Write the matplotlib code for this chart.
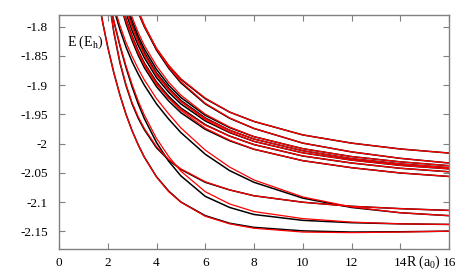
import matplotlib
matplotlib.use("Agg")
import matplotlib.pyplot as plt

plt.rcParams['font.family'] = ['Liberation Serif', 'DejaVu Serif']
plt.rcParams['mathtext.fontset'] = 'custom'
plt.rcParams['mathtext.rm'] = 'Liberation Serif'
plt.rcParams['mathtext.it'] = 'Liberation Serif:italic'

# bond length grid (a0) shared by all curves
R = [1.6, 1.8, 2.0, 2.25, 2.5, 2.75, 3.0, 3.25, 3.5, 4.0, 4.5, 5.0, 6.0, 7.0, 8.0, 10.0, 12.0, 14.0, 16.0]

# energies (Eh): black = reference curves, red = model curves
G_black = [-1.749, -1.7945, -1.835, -1.879, -1.917, -1.950, -1.978, -2.002, -2.023, -2.0565, -2.081, -2.0996, -2.123, -2.136, -2.143, -2.149, -2.151, -2.1505, -2.1495]
G_red = [-1.749, -1.7945, -1.835, -1.879, -1.917, -1.950, -1.978, -2.002, -2.023, -2.057, -2.082, -2.100, -2.124, -2.137, -2.1445, -2.151, -2.152, -2.151, -2.1495]
c_black = [-1.651, -1.699, -1.743, -1.791, -1.833, -1.870, -1.903, -1.932, -1.957, -1.998, -2.030, -2.055, -2.090, -2.109, -2.121, -2.131, -2.135, -2.137, -2.138]
c_red = [-1.651, -1.699, -1.743, -1.790, -1.831, -1.867, -1.899, -1.927, -1.951, -1.991, -2.022, -2.047, -2.082, -2.103, -2.116, -2.128, -2.134, -2.137, -2.138]
b_black = [-1.563, -1.665, -1.740, -1.810, -1.862, -1.901, -1.932, -1.9565, -1.976, -2.007, -2.028, -2.044, -2.066, -2.079, -2.089, -2.100, -2.107, -2.111, -2.114]
b_red = [-1.563, -1.665, -1.740, -1.809, -1.860, -1.899, -1.930, -1.954, -1.974, -2.005, -2.027, -2.043, -2.065, -2.079, -2.089, -2.100, -2.107, -2.111, -2.114]
a_black = [-1.640, -1.690, -1.730, -1.770, -1.805, -1.835, -1.860, -1.881, -1.900, -1.932, -1.958, -1.981, -2.018, -2.046, -2.066, -2.093, -2.109, -2.118, -2.123]
a_red = [-1.635, -1.685, -1.725, -1.764, -1.798, -1.827, -1.851, -1.872, -1.891, -1.923, -1.949, -1.973, -2.011, -2.040, -2.062, -2.091, -2.108, -2.118, -2.123]
U1_black = [-1.399, -1.4855, -1.5535, -1.620, -1.672, -1.714, -1.748, -1.776, -1.800, -1.838, -1.867, -1.890, -1.923, -1.946, -1.962, -1.985, -1.999, -2.009, -2.016]
U1_red = [-1.399, -1.4855, -1.5535, -1.620, -1.672, -1.714, -1.748, -1.775, -1.799, -1.837, -1.866, -1.889, -1.922, -1.946, -1.962, -1.985, -1.999, -2.009, -2.016]
U2_black = [-1.364, -1.458, -1.532, -1.604, -1.660, -1.705, -1.742, -1.773, -1.799, -1.840, -1.871, -1.896, -1.932, -1.9565, -1.974, -1.999, -2.014, -2.025, -2.033]
U2_red = [-1.364, -1.458, -1.532, -1.604, -1.660, -1.705, -1.742, -1.772, -1.797, -1.838, -1.869, -1.894, -1.931, -1.956, -1.974, -1.999, -2.014, -2.025, -2.033]
U3_black = [-1.468, -1.548, -1.6105, -1.672, -1.720, -1.758, -1.790, -1.816, -1.838, -1.873, -1.900, -1.921, -1.9515, -1.9725, -1.988, -2.0085, -2.022, -2.031, -2.0376]
U3_red = [-1.462, -1.542, -1.6045, -1.666, -1.714, -1.752, -1.784, -1.810, -1.832, -1.867, -1.895, -1.917, -1.9495, -1.9715, -1.988, -2.0085, -2.022, -2.031, -2.0376]
U4_black = [-1.4785, -1.5576, -1.6195, -1.680, -1.7276, -1.7655, -1.7966, -1.822, -1.844, -1.879, -1.905, -1.926, -1.956, -1.977, -1.992, -2.012, -2.0255, -2.0345, -2.041]
U4_red = [-1.4825, -1.5616, -1.6235, -1.684, -1.7316, -1.7695, -1.8006, -1.826, -1.848, -1.883, -1.908, -1.928, -1.957, -1.977, -1.992, -2.012, -2.0255, -2.0345, -2.041]
U5_black = [-1.499, -1.576, -1.636, -1.694, -1.740, -1.777, -1.807, -1.832, -1.853, -1.887, -1.912, -1.932, -1.961, -1.981, -1.996, -2.0156, -2.028, -2.037, -2.043]
U5_red = [-1.493, -1.570, -1.630, -1.688, -1.734, -1.771, -1.801, -1.826, -1.847, -1.881, -1.907, -1.928, -1.959, -1.980, -1.996, -2.0156, -2.028, -2.037, -2.043]
U6_black = [-1.515, -1.590, -1.649, -1.706, -1.751, -1.787, -1.816, -1.841, -1.862, -1.8945, -1.919, -1.939, -1.9675, -1.987, -2.0015, -2.021, -2.033, -2.042, -2.048]
U6_red = [-1.519, -1.594, -1.653, -1.710, -1.755, -1.791, -1.820, -1.845, -1.866, -1.8985, -1.922, -1.941, -1.9685, -1.987, -2.0015, -2.021, -2.033, -2.042, -2.048]
U7_black = [-1.523, -1.598, -1.657, -1.714, -1.759, -1.795, -1.824, -1.849, -1.870, -1.9025, -1.927, -1.947, -1.9755, -1.995, -2.0095, -2.029, -2.041, -2.050, -2.056]
U7_red = [-1.517, -1.592, -1.651, -1.708, -1.753, -1.789, -1.818, -1.843, -1.864, -1.8965, -1.922, -1.943, -1.9735, -1.994, -2.0095, -2.029, -2.041, -2.050, -2.056]

black_curves = [G_black, c_black, b_black, a_black, U1_black, U2_black, U3_black, U4_black, U5_black, U6_black, U7_black]
red_curves = [G_red, c_red, b_red, a_red, U1_red, U2_red, U3_red, U4_red, U5_red, U6_red, U7_red]

x_ticks = [0, 2, 4, 6, 8, 10, 12, 14, 16]
y_ticks = [-2.15, -2.1, -2.05, -2.0, -1.95, -1.9, -1.85, -1.8]
y_labels = ['-2.15', '-2.1', '-2.05', '-2', '-1.95', '-1.9', '-1.85', '-1.8']

fig = plt.figure(figsize=(4.71, 2.75), dpi=100)
ax = fig.add_axes([0.1253, 0.0945, 0.828, 0.851])

for e in black_curves:
    ax.plot(R, e, color='black', lw=1.1)
for e in red_curves:
    ax.plot(R, e, color='#ff0000', lw=0.9)

ax.set_xlim(0, 16)
ax.set_ylim(-2.18, -1.78)
ax.set_xticks(x_ticks)
ax.set_xticklabels([str(t) for t in x_ticks])
ax.set_yticks(y_ticks)
ax.set_yticklabels(y_labels)
ax.tick_params(direction='in', top=True, right=True, length=4, width=0.8,
               color='#808080', labelsize=9.5)
ax.tick_params(axis='x', pad=6)
ax.tick_params(axis='y', pad=8)
for s in ax.spines.values():
    s.set_color('#808080')
    s.set_linewidth(1.0)

ax.text(0.02, 0.87, r'E (E$_\mathrm{h}$)', transform=ax.transAxes, fontsize=10)
ax.text(0.934, -0.0577, r'R (a$_0$)', transform=ax.transAxes, fontsize=10,
        ha='center', va='center')

fig.savefig('out.png', dpi=100)
